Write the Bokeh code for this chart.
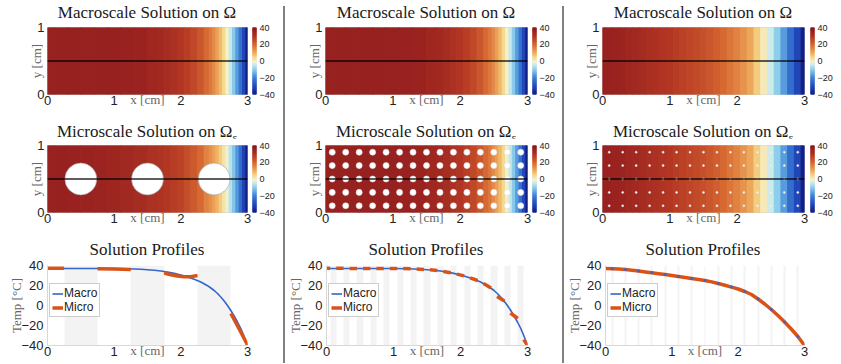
import numpy as np
from bokeh.plotting import figure
from bokeh.models import (ColumnDataSource, LinearColorMapper, FixedTicker,
                          Span, Legend, LegendItem, Div, Range1d)
from bokeh.layouts import row, column
from bokeh.embed import file_html
from bokeh.resources import INLINE
from bokeh.transform import transform

# ---------------- data ----------------
X_FINE = [0.0, 0.2, 0.4, 0.6, 0.8, 1.0, 1.2, 1.4, 1.6, 1.7, 1.8, 1.9, 2.0, 2.1, 2.2, 2.3,
          2.4, 2.45, 2.5, 2.55, 2.6, 2.65, 2.7, 2.75, 2.8, 2.85, 2.9, 2.95, 3.0]
T_MACRO = [37.0, 37.0, 37.0, 37.0, 37.0, 37.0, 36.8, 36.3, 35.3, 34.5, 33.4, 32.1, 30.5, 28.6,
           26.3, 23.5, 19.8, 17.5, 15.0, 12.0, 8.5, 4.5, 0.0, -5.0, -10.5, -16.5, -23.0, -31.0, -40.0]
T_MICRO_FIELD_1 = [37.0, 37.0, 36.8, 36.5, 36.0, 35.5, 34.5, 33.5, 32.0, 31.0, 30.0, 29.0, 27.5,
                   25.5, 23.0, 20.0, 16.5, 14.5, 12.0, 9.5, 6.5, 3.0, -1.0, -6.0, -11.0, -17.0,
                   -24.0, -32.0, -40.0]

X_COARSE = [0.0, 0.1, 0.2, 0.3, 0.4, 0.5, 0.6, 0.7, 0.8, 0.9, 1.0, 1.1, 1.2, 1.3, 1.4, 1.5,
            1.6, 1.7, 1.8, 1.9, 2.0, 2.1, 2.2, 2.3, 2.4, 2.5, 2.6, 2.7, 2.8, 2.9, 3.0]
T_MACRO_3 = [37.0, 36.8, 36.5, 36.0, 35.3, 34.5, 33.6, 32.7, 31.8, 30.9, 30.0, 29.0, 28.0, 27.0,
             26.0, 25.0, 23.6, 22.0, 20.2, 18.4, 16.5, 14.0, 11.0, 6.5, 1.5, -4.0, -10.0, -16.5,
             -23.5, -31.0, -40.0]

HOLES_1_X = [0.5, 1.5, 2.5]
HOLES_1_Y = [0.5, 0.5, 0.5]
R1 = 0.24
GRID_X = [0.1, 0.3, 0.5, 0.7, 0.9, 1.1, 1.3, 1.5, 1.7, 1.9, 2.1, 2.3, 2.5, 2.7, 2.9]
GRID_Y = [0.1, 0.3, 0.5, 0.7, 0.9]
R2 = 0.045
R3 = 0.015
PROFILE_Y = 0.5

MICRO1_X = [[0.0, 0.25], [0.75, 1.0, 1.25], [1.75, 1.85, 1.95, 2.05, 2.15, 2.25], [2.75, 2.875, 3.0]]
MICRO1_T = [[37.3, 37.3], [36.8, 36.4, 36.0], [32.5, 30.8, 29.5, 28.8, 28.8, 30.0], [-8.0, -23.5, -39.5]]

MICRO2_T0 = [37.2, 37.2, 37.1, 37.0, 37.0, 37.0, 36.9, 36.5, 35.7, 34.0, 31.4, 27.6, 22.0, 9.0, -7.5, -34.0]
MICRO2_T1 = [37.2, 37.2, 37.1, 37.0, 37.0, 37.0, 36.7, 36.1, 35.0, 32.8, 29.6, 25.0, 17.5, 4.5, -13.0, -40.0]

X_TICKS = [0, 1, 2, 3]
Y_TICKS_FIELD = [0, 1]
T_TICKS = [-40, -20, 0, 20, 40]
T_LOW, T_HIGH = -40, 40

TITLE_MACRO = "Macroscale Solution on Ω"
TITLE_MICRO = "Microscale Solution on Ω<sub style='font-size:11px'>ε</sub>"
TITLE_PROFILE = "Solution Profiles"

# ---------------- style ----------------
SERIF = "Liberation Serif"
SANS = "Liberation Sans"
stops_v = [-40, -30, -20, -10, -3, 0, 5, 10, 20, 30, 40]
stops_c = [(20, 30, 130), (35, 75, 190), (60, 130, 215), (140, 205, 235), (215, 240, 235),
           (245, 242, 200), (245, 215, 140), (240, 175, 95), (215, 105, 50), (180, 55, 35),
           (140, 25, 30)]
_vals = np.linspace(T_LOW, T_HIGH, 256)
PALETTE = ['#%02x%02x%02x' % tuple(int(round(np.interp(v, stops_v, [c[i] for c in stops_c])))
                                   for i in range(3)) for v in _vals]
BLUE = "#3465c8"
ORANGE = "#d95319"
BAND = "#f3f3f3"

MAPPER = LinearColorMapper(palette=PALETTE, low=T_LOW, high=T_HIGH)


def style_axes(p, yticks):
    p.xaxis.ticker = FixedTicker(ticks=X_TICKS)
    p.yaxis.ticker = FixedTicker(ticks=yticks)
    for ax in (p.xaxis[0], p.yaxis[0]):
        ax.major_tick_out = 0
        ax.major_tick_in = 0
        ax.minor_tick_out = 0
        ax.minor_tick_in = 0
        ax.major_label_text_font = SANS
        ax.major_label_text_font_size = "13px"
        ax.major_label_text_color = "#222222"
        ax.axis_label_text_font = SERIF
        ax.axis_label_text_font_size = "13px"
        ax.axis_label_text_font_style = "normal"
        ax.axis_label_text_color = "#666666"
    p.xaxis.axis_label = "x [cm]"
    p.xaxis.major_label_standoff = 1
    p.xaxis.axis_label_standoff = -16
    p.grid.visible = False


def title_div(html, left, fw, off):
    inner = (f'<div style="position:relative; top:{off}px; width:{fw}px; '
             f'font-family:\'{SERIF}\'; font-weight:normal; '
             f'font-size:17px; line-height:20px; text-align:center; color:#1a1a1a; '
             f'white-space:nowrap;">{html}</div>')
    return Div(text=inner, width=fw, height=20, margin=(0, 0, 0, left),
               styles={"text-align": "center"})


FH = 67        # heatmap frame height
FTOP, FBOT = 7, 24


def field_cell(left, fw, gap, cbw, xs, ts, holes=None, r=None, hole_line="#999999"):
    p = figure(width=left + fw + gap, height=FTOP + FH + FBOT, x_range=Range1d(0, 3),
               y_range=Range1d(0, 1), output_backend="svg", toolbar_location=None,
               min_border_left=left, min_border_right=gap, min_border_top=FTOP,
               min_border_bottom=FBOT)
    xs = np.array(xs, dtype=float)
    mids = (xs[:-1] + xs[1:]) / 2
    lefts = np.concatenate([[xs[0]], mids])
    rights = np.concatenate([mids, [xs[-1]]])
    src = ColumnDataSource(dict(left=lefts, right=rights, T=ts))
    p.quad(left="left", right="right", bottom=0, top=1, source=src,
           fill_color=transform("T", MAPPER), line_color=transform("T", MAPPER), line_width=1)
    if holes is not None:
        hx, hy = holes
        p.circle(x=hx, y=hy, radius=r, fill_color="white", line_color=hole_line, line_width=0.6)
    p.add_layout(Span(location=PROFILE_Y, dimension="width", line_color="black",
                      line_width=1.5, line_alpha=0.85))
    style_axes(p, Y_TICKS_FIELD)
    p.yaxis.axis_label = "y [cm]"
    p.yaxis.major_label_standoff = 3
    p.yaxis.axis_label_standoff = -10
    p.xaxis.axis_line_color = None
    p.yaxis.axis_line_color = None
    p.outline_line_color = "#c8c8c8"

    # colour bar as a small companion figure sharing the frame height
    cb = figure(width=cbw, height=FTOP + FH + FBOT, x_range=Range1d(0, 1),
                y_range=Range1d(T_LOW, T_HIGH), output_backend="svg", toolbar_location=None,
                x_axis_location=None, y_axis_location="right",
                min_border_left=0, min_border_right=cbw - 4, min_border_top=FTOP,
                min_border_bottom=FBOT)
    edges = np.linspace(T_LOW, T_HIGH, len(PALETTE) + 1)
    cb.quad(left=0, right=1, bottom=edges[:-1], top=edges[1:], fill_color=PALETTE,
            line_color=PALETTE, line_width=0.5)
    cb.yaxis.ticker = FixedTicker(ticks=T_TICKS)
    cb.yaxis.major_tick_out = 0
    cb.yaxis.major_tick_in = 0
    cb.yaxis.minor_tick_out = 0
    cb.yaxis.minor_tick_in = 0
    cb.yaxis.axis_line_color = None
    cb.yaxis.major_label_standoff = 3
    cb.yaxis.major_label_text_font = SANS
    cb.yaxis.major_label_text_font_size = "9px"
    cb.yaxis.major_label_text_color = "#222222"
    cb.grid.visible = False
    cb.outline_line_color = None
    return row(p, cb)


PH = 80        # profile frame height
PTOP, PBOT = 9, 18


def profile_fig(width, left, fw, band_centers, band_r):
    p = figure(width=width, height=PTOP + PH + PBOT, x_range=Range1d(0, 3),
               y_range=Range1d(T_LOW, T_HIGH), output_backend="svg", toolbar_location=None,
               min_border_left=left, min_border_right=width - left - fw, min_border_top=PTOP,
               min_border_bottom=PBOT)
    bc = np.array(band_centers, dtype=float)
    p.vstrip(x0=bc - band_r, x1=bc + band_r, fill_color=BAND, line_color=None)
    style_axes(p, T_TICKS)
    p.yaxis.axis_label = "Temp [°C]"
    p.yaxis.major_label_standoff = 4
    p.yaxis.axis_label_standoff = -6
    p.xaxis.axis_line_color = "#d8d8d8"
    p.yaxis.axis_line_color = "#d8d8d8"
    p.outline_line_color = None
    return p


def add_legend(p, macro_r, micro_r):
    lg = Legend(items=[LegendItem(label="Macro", renderers=[macro_r]),
                       LegendItem(label="Micro", renderers=[micro_r])],
                location=(2, 28), margin=0, padding=2, spacing=0, label_standoff=1,
                glyph_width=11, glyph_height=11, label_height=11,
                label_text_font=SANS, label_text_font_size="12px", label_text_color="#222222",
                border_line_color="#999999", border_line_width=1, background_fill_alpha=1)
    p.add_layout(lg)


gx, gy = np.meshgrid(GRID_X, GRID_Y)
GX, GY = gx.ravel().tolist(), gy.ravel().tolist()


def build_column(width, left, fw, gap, xs_macro, t_macro, xs_micro, t_micro_field, holes, r,
                 hole_line, band_centers, band_r):
    cbw = width - left - fw - gap
    t1 = title_div(TITLE_MACRO, left, fw, 3)
    h1 = field_cell(left, fw, gap, cbw, xs_macro, t_macro)
    t2 = title_div(TITLE_MICRO, left, fw, 4)
    h2 = field_cell(left, fw, gap, cbw, xs_micro, t_micro_field, holes=holes, r=r,
                    hole_line=hole_line)
    t3 = title_div(TITLE_PROFILE, left, fw, 4)
    pf = profile_fig(width, left, fw, band_centers, band_r)
    return column(t1, h1, t2, h2, t3, pf), pf


col1, f13 = build_column(283, 47, 200, 5, X_FINE, T_MACRO, X_FINE, T_MICRO_FIELD_1,
                         (HOLES_1_X, HOLES_1_Y), R1, "#999999", HOLES_1_X, 0.25)
m1 = f13.line(X_FINE, T_MACRO, line_color=BLUE, line_width=1.6)
u1 = f13.multi_line(MICRO1_X, MICRO1_T, line_color=ORANGE, line_width=3.5)
add_legend(f13, m1, u1)

col2, f23 = build_column(277, 40, 202, 5, X_FINE, T_MACRO, X_FINE, T_MACRO,
                         (GX, GY), R2, "#dddddd", GRID_X, R2)
m2 = f23.line(X_FINE, T_MACRO, line_color=BLUE, line_width=1.6)
d_x0 = [0.0] + [g + R2 for g in GRID_X]
d_x1 = [g - R2 for g in GRID_X] + [3.0]
u2 = f23.segment(x0=d_x0, y0=MICRO2_T0, x1=d_x1, y1=MICRO2_T1, line_color=ORANGE, line_width=3.5)
add_legend(f23, m2, u2)

col3, f33 = build_column(276, 38, 202, 6, X_COARSE, T_MACRO_3, X_COARSE, T_MACRO_3,
                         (GX, GY), R3, "#dddddd", GRID_X, R3)
m3 = f33.line(X_COARSE, T_MACRO_3, line_color=BLUE, line_width=1.6)
u3 = f33.line(X_COARSE, T_MACRO_3, line_color=ORANGE, line_width=3.5)
f33.scatter(X_COARSE[1::2], T_MACRO_3[1::2], marker="square", size=2.5, fill_color=BLUE,
            line_color=None)
add_legend(f33, m3, u3)


def sep():
    return Div(width=2, height=357, margin=(6, 0, 0, 0),
               styles={"background-color": "#808080"})


layout = row(col1, sep(), col2, sep(), col3)

open("out.html", "w").write(file_html(layout, INLINE))
